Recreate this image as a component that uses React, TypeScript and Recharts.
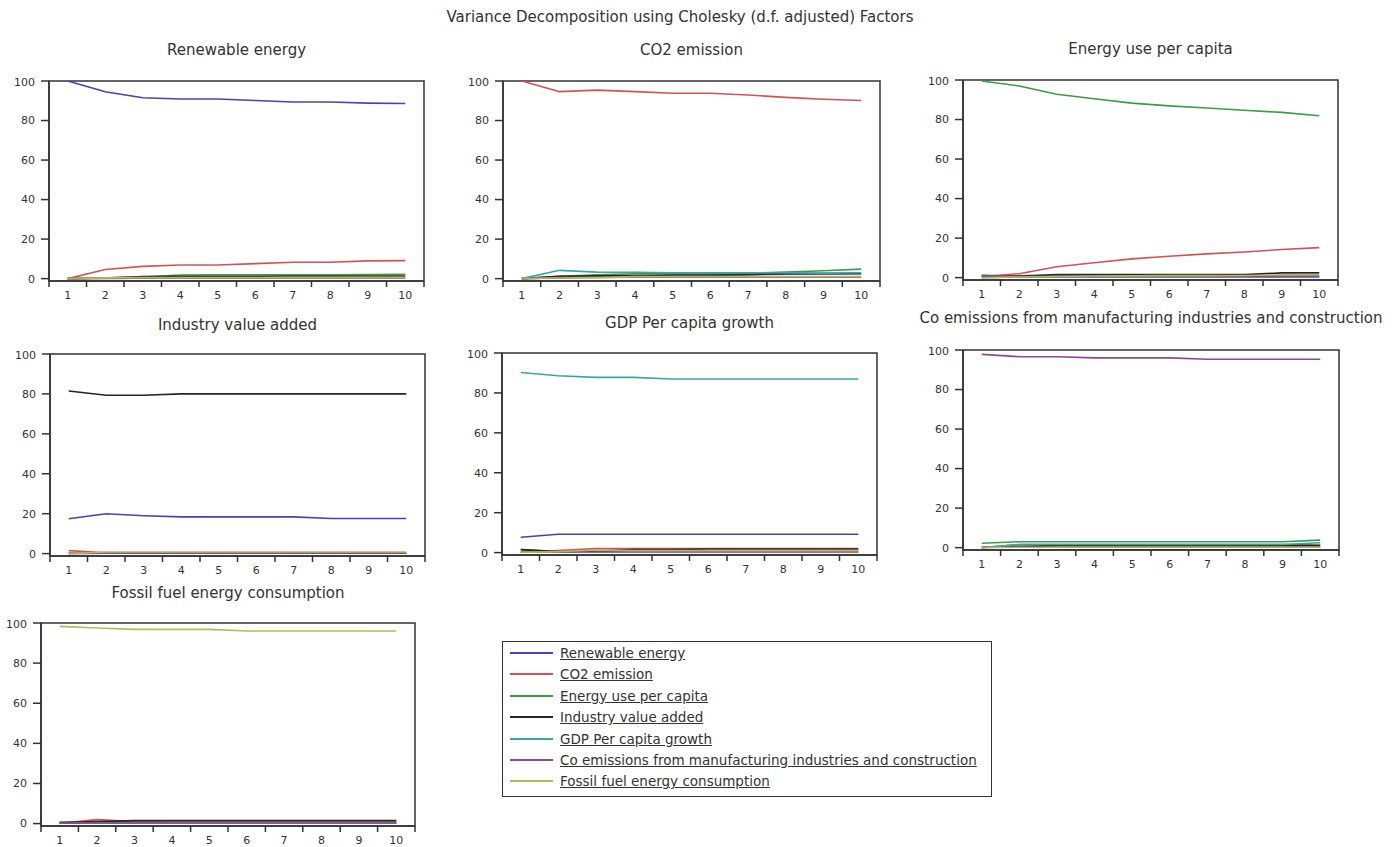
import React from "react";
import {
  LineChart,
  Line,
  XAxis,
  YAxis,
  ReferenceArea,
} from "recharts";

// ---------------------------------------------------------------------------
// Data (read off the EViews output)
// ---------------------------------------------------------------------------

const periods = [1, 2, 3, 4, 5, 6, 7, 8, 9, 10];

const seriesNames = [
  "Renewable energy",
  "CO2 emission",
  "Energy use per capita",
  "Industry value added",
  "GDP Per capita growth",
  "Co emissions from manufacturing industries and construction",
  "Fossil fuel energy consumption",
];

const seriesColors = [
  "#4444b8",
  "#d05454",
  "#3f9a4a",
  "#262626",
  "#3aa6a6",
  "#8a4a92",
  "#b8b85a",
];

const yTicks = [0, 20, 40, 60, 80, 100];
const xTicks = [0.5, 1, 1.5, 2, 2.5, 3, 3.5, 4, 4.5, 5, 5.5, 6, 6.5, 7, 7.5, 8, 8.5, 9, 9.5, 10, 10.5];

// each panel: one row per shock, in the order of seriesNames
const renewablePanel = [
  [100, 94.6, 91.5, 90.9, 90.9, 90.1, 89.4, 89.4, 88.8, 88.6],
  [0, 4.6, 6.2, 6.9, 6.9, 7.6, 8.3, 8.3, 9.0, 9.1],
  [0, 0.4, 0.8, 1.8, 2.0, 2.0, 2.0, 2.0, 2.1, 2.2],
  [0, 0.3, 1.1, 1.2, 1.2, 1.2, 1.3, 1.3, 1.3, 1.3],
  [0, 0.2, 0.3, 0.4, 0.4, 0.4, 0.4, 0.4, 0.4, 0.4],
  [0, 0.1, 0.2, 0.3, 0.3, 0.3, 0.3, 0.3, 0.3, 0.3],
  [0, 0.4, 0.5, 0.5, 0.5, 0.5, 0.5, 0.5, 0.5, 0.5],
];

const co2Panel = [
  [0, 0.5, 0.8, 1.0, 1.5, 1.5, 2.0, 2.2, 2.4, 2.5],
  [100, 94.6, 95.4, 94.6, 93.8, 93.8, 92.9, 91.7, 90.8, 90.1],
  [0, 1.2, 2.0, 2.5, 2.5, 2.5, 2.8, 3.3, 4.0, 4.8],
  [0, 1.2, 1.4, 1.5, 1.8, 1.8, 2.0, 2.6, 2.6, 2.6],
  [0, 4.2, 3.3, 3.2, 3.0, 3.0, 3.0, 2.9, 2.8, 3.0],
  [0, 0.5, 0.6, 0.7, 0.7, 0.7, 0.7, 0.7, 0.7, 0.7],
  [0, 0.3, 0.5, 1.0, 1.0, 1.0, 1.0, 1.0, 1.0, 1.0],
];

const energyPanel = [
  [1.0, 0.8, 0.8, 0.8, 0.8, 0.8, 0.8, 0.8, 0.8, 0.8],
  [0.5, 2.0, 5.5, 7.5, 9.5, 10.8, 12.0, 13.0, 14.2, 15.2],
  [99.5, 97.0, 92.8, 90.5, 88.3, 86.9, 85.8, 84.7, 83.6, 81.9],
  [0.5, 0.8, 1.5, 1.5, 1.5, 1.5, 1.5, 1.5, 2.4, 2.4],
  [0, 0.3, 0.4, 0.4, 0.4, 0.4, 0.4, 0.4, 0.4, 0.4],
  [1.2, 0.5, 0.5, 0.5, 0.5, 0.5, 0.5, 0.5, 0.5, 0.5],
  [0, 0.3, 0.6, 0.8, 0.9, 1.0, 1.0, 1.1, 1.4, 1.5],
];

const industryPanel = [
  [17.5, 20.0, 19.0, 18.4, 18.4, 18.4, 18.4, 17.6, 17.6, 17.6],
  [1.5, 0.4, 0.4, 0.4, 0.4, 0.4, 0.4, 0.4, 0.4, 0.4],
  [0.2, 0.3, 0.3, 0.3, 0.3, 0.3, 0.3, 0.3, 0.3, 0.3],
  [81.5, 79.3, 79.3, 80.0, 80.0, 80.0, 80.0, 80.0, 80.0, 80.0],
  [0.1, 0.2, 0.2, 0.2, 0.2, 0.2, 0.2, 0.2, 0.2, 0.2],
  [0.1, 0.2, 0.2, 0.2, 0.2, 0.2, 0.2, 0.2, 0.2, 0.2],
  [0, 0.8, 0.8, 0.8, 0.8, 0.8, 0.8, 0.8, 0.8, 0.8],
];

const gdpPanel = [
  [7.7, 9.2, 9.2, 9.2, 9.2, 9.2, 9.2, 9.2, 9.2, 9.2],
  [0.3, 1.0, 2.0, 2.0, 2.0, 2.0, 2.0, 2.0, 2.0, 2.0],
  [1.5, 0.5, 0.5, 0.6, 0.6, 0.6, 0.6, 0.6, 0.6, 0.6],
  [1.5, 0.5, 0.8, 1.5, 1.5, 1.8, 1.8, 1.8, 1.8, 1.8],
  [90.2, 88.6, 87.8, 87.8, 87.0, 87.0, 87.0, 87.0, 87.0, 87.0],
  [0.2, 0.3, 0.3, 0.3, 0.3, 0.3, 0.3, 0.3, 0.3, 0.3],
  [0.1, 0.5, 1.3, 1.0, 1.0, 1.0, 1.0, 1.0, 1.0, 1.0],
];

const coEmissionsPanel = [
  [0, 1.5, 1.5, 1.5, 1.5, 1.5, 1.5, 1.5, 1.5, 1.2],
  [0.1, 0.3, 0.3, 0.3, 0.3, 0.3, 0.3, 0.3, 0.3, 0.3],
  [2.2, 3.0, 3.0, 3.0, 3.0, 3.0, 3.0, 3.0, 3.0, 3.8],
  [0.2, 0.5, 1.0, 1.0, 1.0, 1.0, 1.0, 1.0, 1.0, 1.0],
  [0, 1.6, 1.6, 1.6, 1.6, 1.6, 1.6, 1.6, 1.6, 2.5],
  [97.8, 96.6, 96.6, 96.0, 96.0, 96.0, 95.3, 95.3, 95.3, 95.3],
  [0.1, 0.2, 0.2, 0.2, 0.2, 0.2, 0.2, 0.2, 0.2, 0.2],
];

const fossilPanel = [
  [0.6, 0.5, 0.5, 0.5, 0.5, 0.5, 0.5, 0.5, 0.5, 0.5],
  [0.1, 2.0, 1.0, 0.8, 0.8, 0.8, 0.8, 0.8, 0.8, 0.8],
  [0.2, 0.3, 0.3, 0.3, 0.3, 0.3, 0.3, 0.3, 0.3, 0.3],
  [0.5, 1.0, 1.5, 1.5, 1.5, 1.5, 1.5, 1.5, 1.5, 1.5],
  [0.2, 0.3, 0.3, 0.3, 0.3, 0.3, 0.3, 0.3, 0.3, 0.3],
  [0.2, 0.3, 0.3, 0.3, 0.3, 0.3, 0.3, 0.3, 0.3, 0.3],
  [98.3, 97.5, 96.8, 96.8, 96.8, 96.0, 96.0, 96.0, 96.0, 96.0],
];

// ---------------------------------------------------------------------------
// Layout
// ---------------------------------------------------------------------------

const FONT = "'DejaVu Sans', Verdana, sans-serif";
const INK = "#333";
const Y_MIN = -1.2;

interface PanelSpec {
  title: string;
  rows: number[][];
  left: number; // plot area left edge
  top: number; // plot area top edge (y = 100)
  width: number;
  height: number;
  titleY: number;
}

const panels: PanelSpec[] = [
  { title: "Renewable energy", rows: renewablePanel, left: 49, top: 81, width: 375, height: 200, titleY: 50 },
  { title: "CO2 emission", rows: co2Panel, left: 503, top: 81, width: 377, height: 200, titleY: 50 },
  { title: "Energy use per capita", rows: energyPanel, left: 963, top: 80, width: 375, height: 200, titleY: 49 },
  { title: "Industry value added", rows: industryPanel, left: 50, top: 354, width: 375, height: 202, titleY: 325 },
  { title: "GDP Per capita growth", rows: gdpPanel, left: 502, top: 353, width: 375, height: 202, titleY: 323 },
  {
    title: "Co emissions from manufacturing industries and construction",
    rows: coEmissionsPanel,
    left: 963,
    top: 350,
    width: 376,
    height: 200,
    titleY: 318,
  },
  { title: "Fossil fuel energy consumption", rows: fossilPanel, left: 41, top: 623, width: 374, height: 203, titleY: 593 },
];

const Y_AXIS_W = 40;
const M_LEFT = 5;
const M_TOP = 5;
const M_RIGHT = 5;
const X_AXIS_H = 30;

function PeriodTick(props: any) {
  const { x, y, payload } = props;
  const axisY = y - 8;
  const v = payload.value as number;
  if (Number.isInteger(v)) {
    return (
      <text x={x} y={axisY + 18} textAnchor="middle" fontSize={11} fill={INK} fontFamily={FONT}>
        {v}
      </text>
    );
  }
  return <line x1={x} x2={x} y1={axisY} y2={axisY + 6} stroke={INK} strokeWidth={1.5} />;
}

function Panel({ spec }: { spec: PanelSpec }) {
  const data = periods.map((p, i) => {
    const row: Record<string, number> = { period: p };
    spec.rows.forEach((r, k) => {
      row[`s${k}`] = r[i];
    });
    return row;
  });

  const chartW = M_LEFT + Y_AXIS_W + spec.width + M_RIGHT;
  const chartH = M_TOP + spec.height + X_AXIS_H;

  return (
    <>
      <div
        style={{
          position: "absolute",
          left: spec.left + spec.width / 2 - 300,
          width: 600,
          top: spec.titleY - 10,
          textAlign: "center",
          fontFamily: FONT,
          fontSize: 15,
          color: INK,
          lineHeight: "20px",
          whiteSpace: "nowrap",
        }}
      >
        {spec.title}
      </div>
      <div
        style={{
          position: "absolute",
          left: spec.left - Y_AXIS_W - M_LEFT,
          top: spec.top - M_TOP,
        }}
      >
        <LineChart
          width={chartW}
          height={chartH}
          data={data}
          margin={{ top: M_TOP, right: M_RIGHT, bottom: 0, left: M_LEFT }}
        >
          <XAxis
            dataKey="period"
            type="number"
            domain={[0.5, 10.5]}
            ticks={xTicks}
            interval={0}
            height={X_AXIS_H}
            tickSize={6}
            tickMargin={2}
            tickLine={false}
            axisLine={{ stroke: INK, strokeWidth: 1.5 }}
            tick={<PeriodTick />}
          />
          <YAxis
            type="number"
            domain={[Y_MIN, 100]}
            ticks={yTicks}
            width={Y_AXIS_W}
            allowDataOverflow
            tickSize={8}
            tickMargin={6}
            tickLine={{ stroke: INK, strokeWidth: 1.5 }}
            axisLine={{ stroke: INK, strokeWidth: 1.5 }}
            tick={{ fontSize: 11, fill: INK, fontFamily: FONT }}
          />
          <ReferenceArea
            x1={0.5}
            x2={10.5}
            y1={Y_MIN}
            y2={100}
            fill="none"
            fillOpacity={0}
            stroke={INK}
            strokeWidth={1.5}
            strokeOpacity={1}
          />
          {spec.rows.map((_, k) => (
            <Line
              key={k}
              type="linear"
              dataKey={`s${k}`}
              stroke={seriesColors[k]}
              strokeWidth={1.6}
              dot={false}
              activeDot={false}
              isAnimationActive={false}
            />
          ))}
        </LineChart>
      </div>
    </>
  );
}

function LegendBox() {
  return (
    <div
      style={{
        position: "absolute",
        left: 502,
        top: 641,
        width: 488,
        height: 154,
        border: `1.5px solid ${INK}`,
        background: "#fff",
      }}
    >
      {seriesNames.map((name, k) => (
        <div
          key={name}
          style={{
            position: "absolute",
            left: 0,
            top: 2 + k * 21.4,
            height: 18,
            display: "flex",
            alignItems: "center",
          }}
        >
          <svg width={50} height={4} style={{ marginLeft: 7, display: "block" }}>
            <line x1={0} x2={43} y1={2} y2={2} stroke={seriesColors[k]} strokeWidth={1.8} />
          </svg>
          <span
            style={{
              fontFamily: FONT,
              fontSize: 13.5,
              color: INK,
              textDecoration: "underline",
              whiteSpace: "nowrap",
            }}
          >
            {name}
          </span>
        </div>
      ))}
    </div>
  );
}

export default function App() {
  return (
    <div
      style={{
        position: "absolute",
        left: 0,
        top: 0,
        width: 1394,
        height: 847,
        background: "#fff",
        overflow: "hidden",
      }}
    >
      <div
        style={{
          position: "absolute",
          left: 680 - 400,
          width: 800,
          top: 7,
          textAlign: "center",
          fontFamily: FONT,
          fontSize: 15,
          color: INK,
          lineHeight: "20px",
        }}
      >
        Variance Decomposition using Cholesky (d.f. adjusted) Factors
      </div>
      {panels.map((p) => (
        <Panel key={p.title} spec={p} />
      ))}
      <LegendBox />
    </div>
  );
}
